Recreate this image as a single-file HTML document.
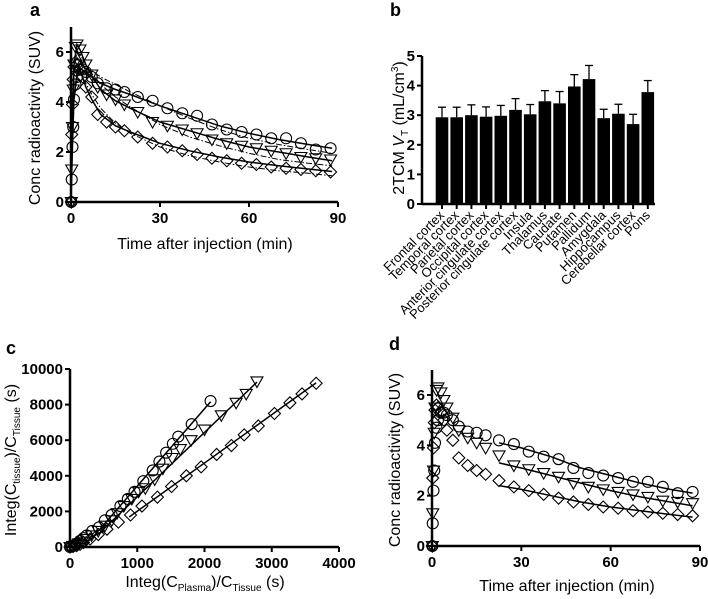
<!DOCTYPE html>
<html><head><meta charset="utf-8">
<style>
html,body{margin:0;padding:0;background:#fff;}
svg{display:block;font-family:"Liberation Sans",Arial,sans-serif;}
.tick{font-size:15px;font-weight:bold;}
.title{font-size:16px;}
.plab{font-size:18px;font-weight:bold;}
.cat{font-size:13px;}
</style></head>
<body>
<svg id="fig" width="708" height="599" viewBox="0 0 708 599" xmlns="http://www.w3.org/2000/svg"></svg>
<script>
// ---------- data ----------
const times = [0.1,0.25,0.5,0.75,1,1.5,2,3,4,5,7,9,12,15,18,22.5,27.5,32.5,37.5,42.5,47.5,52.5,57.5,62.5,67.5,72.5,77.5,82.5,87.5];
const circleTAC = [0,0.9,2.2,3.0,4.1,4.7,5.0,5.3,5.3,5.2,5.0,4.75,4.55,4.5,4.4,4.2,4.05,3.75,3.55,3.45,3.1,2.9,2.8,2.7,2.55,2.55,2.35,2.1,2.15];
const triTAC = [0,1.3,3.0,4.5,5.5,6.2,6.3,6.1,5.8,5.5,5.1,4.6,4.3,4.1,3.9,3.6,3.2,3.05,2.9,2.75,2.5,2.35,2.25,2.15,2.05,1.95,1.8,1.75,1.7];
const diaTAC = [0,2.7,3.9,4.9,5.4,5.6,5.5,5.3,5.0,4.6,4.2,3.5,3.2,3.0,2.85,2.6,2.35,2.2,2.05,1.9,1.75,1.65,1.55,1.5,1.4,1.35,1.3,1.25,1.2];
const fitTimes = [0,0.5,1,2,3,5,7,10,15,20,30,40,50,60,70,80,88];
const circleFit2 = [0,2.3,4.2,5.1,5.35,5.2,5.0,4.75,4.5,4.3,3.85,3.45,3.05,2.75,2.5,2.3,2.15];
const triFit2 = [0,3.0,5.5,6.3,6.1,5.5,5.05,4.5,4.05,3.75,3.2,2.85,2.5,2.2,2.0,1.8,1.65];
const diaFit2 = [0,3.9,5.4,5.5,5.3,4.6,4.1,3.5,3.05,2.8,2.35,2.05,1.8,1.6,1.45,1.32,1.22];
const circleFit1 = [0,2.2,4.0,5.0,5.3,5.35,5.25,5.0,4.7,4.4,3.85,3.35,2.9,2.55,2.3,2.1,1.95];
const triFit1 = [0,2.9,5.3,6.0,5.9,5.5,5.15,4.7,4.2,3.8,3.1,2.6,2.25,1.95,1.7,1.55,1.45];
const diaFit1 = [0,3.8,5.2,5.4,5.2,4.75,4.3,3.75,3.15,2.75,2.2,1.85,1.6,1.4,1.25,1.15,1.05];
const dFitTimes = [22.5,30,40,50,60,70,80,87.5];
const circleFitD = [4.1,3.9,3.55,3.1,2.8,2.5,2.25,2.1];
const triFitD = [3.3,3.1,2.8,2.5,2.2,1.95,1.75,1.6];
const diaFitD = [2.4,2.25,2.0,1.75,1.55,1.4,1.25,1.15];
const regions = ["Frontal cortex","Temporal cortex","Parietal cortex","Occipital cortex","Anterior cingulate cortex","Posterior cingulate cortex","Insula","Thalamus","Caudate","Putamen","Pallidum","Amygdala","Hippocampus","Cerebellar cortex","Pons"];
const vtMean = [2.93,2.93,3.0,2.95,2.98,3.18,3.03,3.47,3.4,3.97,4.22,2.9,3.05,2.7,3.78];
const vtSD = [0.34,0.34,0.35,0.33,0.35,0.38,0.33,0.36,0.4,0.4,0.46,0.3,0.32,0.33,0.39];
const loganCircX = [0,30,60,100,150,200,250,330,430,520,620,750,860,960,1090,1230,1330,1430,1530,1610,1810,2090];
const loganCircY = [0,50,100,200,350,500,650,900,1100,1500,1800,2300,2700,3100,3700,4300,4800,5300,5800,6200,6900,8200];
const loganTriX = [0,40,80,130,180,240,320,420,520,620,700,800,920,1020,1120,1260,1380,1520,1640,1800,2000,2250,2470,2620,2780];
const loganTriY = [0,60,120,200,300,450,650,900,1200,1500,1900,2300,2700,3100,3300,3800,4400,5000,5500,6000,6600,7400,8100,8600,9300];
const loganDiaX = [0,50,100,150,200,300,420,550,720,900,1070,1300,1510,1730,1950,2180,2400,2590,2800,3040,3270,3450,3660];
const loganDiaY = [0,40,80,150,250,450,700,1000,1400,1800,2300,2800,3400,4000,4500,5200,5700,6300,6800,7500,8100,8600,9200];
const loganFitStart = [300,400,880];
const loganSlopes = [4.35,3.62,2.71];
const loganIntercepts = [-930,-800,-700];
const loganFitEnd = [2090,2780,3660];
const tacTicks = [0,2,4,6];
const timeTicks = [0,30,60,90];
const vtTicks = [0,1,2,3,4,5];
const loganYTicks = [0,2000,4000,6000,8000,10000];
const loganXTicks = [0,1000,2000,3000,4000];

// ---------- helpers ----------
const NS="http://www.w3.org/2000/svg";
const svg=document.getElementById('fig');
function mk(tag,attrs,parent){const e=document.createElementNS(NS,tag);for(const k in attrs)e.setAttribute(k,attrs[k]);(parent||svg).appendChild(e);return e;}
function txt(s,x,y,cls,anchor,parent,rot){const t=mk('text',{x:x,y:y,class:cls,'text-anchor':anchor||'middle'},parent);if(rot)t.setAttribute('transform',rot);t.textContent=s;return t;}
function lin(d0,d1,r0,r1){return v=>r0+(v-d0)*(r1-r0)/(d1-d0);}
function marker(kind,x,y,g){let e;
 if(kind==='circle'){e=mk('circle',{cx:x,cy:y,r:5.5,fill:'none',stroke:'#000','stroke-width':1.1},g);}
 else if(kind==='tri'){e=mk('polygon',{points:`${x-6},${y-4.5} ${x+6},${y-4.5} ${x},${y+6}`,fill:'none',stroke:'#000','stroke-width':1.1},g);}
 else {e=mk('polygon',{points:`${x},${y-6} ${x+6},${y} ${x},${y+6} ${x-6},${y}`,fill:'none',stroke:'#000','stroke-width':1.1},g);}
 return e;}
function path(xs,ys,X,Y,g,dash){let d='';for(let i=0;i<xs.length;i++)d+=(i?'L':'M')+X(xs[i]).toFixed(1)+','+Y(ys[i]).toFixed(1);
 const p=mk('path',{d:d,fill:'none',stroke:'#000','stroke-width':dash?1:1.5},g);if(dash)p.setAttribute('stroke-dasharray','6,2,1.5,2');return p;}
function axes(g,X,Y,xt,yt,xl,yl,x0,x1,ytop){
 const ax=mk('line',{x1:X(x0),y1:Y(0),x2:X(x1),y2:Y(0),stroke:'#000','stroke-width':2.5},g);
 
 
 const ay=mk('line',{x1:X(x0),y1:Y(0)+1,x2:X(x0),y2:ytop,stroke:'#000','stroke-width':2.5},g);
 
 
 xt.forEach(v=>{mk('line',{x1:X(v),y1:Y(0),x2:X(v),y2:Y(0)+5,stroke:'#000','stroke-width':2},g);
  const t=txt(xl?xl(v):String(v),X(v),Y(0)+21,'tick','middle',g);
  
  });
 yt.forEach(v=>{mk('line',{x1:X(x0)-5,y1:Y(v),x2:X(x0),y2:Y(v),stroke:'#000','stroke-width':2},g);
  const t=txt(yl?yl(v):String(v),X(x0)-7,Y(v)+5,'tick','end',g);
  
  });
}
const kinds=['circle','tri','dia'];

// ---------- panel a ----------
(function(){
 const g=mk('g',{});
 
 
 const X=lin(0,90,71,338),Y=lin(0,6,202,52);
 const l=txt('a',30,16,'plab','start',g);
 
 
 const fit1=[circleFit1,triFit1,diaFit1],fit2=[circleFit2,triFit2,diaFit2],tac=[circleTAC,triTAC,diaTAC];
 fit1.forEach(f=>{const p=path(fitTimes,f,X,Y,g,true);
  
  });
 fit2.forEach(f=>{const p=path(fitTimes,f,X,Y,g,false);
  
  });
 tac.forEach((s,k)=>s.forEach((v,i)=>{const m=marker(kinds[k],X(times[i]),Y(v),g);
  
  }));
 axes(g,X,Y,timeTicks,tacTicks,null,null,0,90,27);
 const yt=txt('Conc radioactivity (SUV)',0,0,'title','middle',g,'translate(40,118) rotate(-90)');
 
 
 const xt=txt('Time after injection (min)',205,249,'title','middle',g);
 
 
})();

// ---------- panel b ----------
(function(){
 const g=mk('g',{});
 
 
 const Y=lin(0,5,204,56);
 const X=i=>442+i*14.7;
 const l=txt('b',390,16,'plab','start',g);
 
 
 vtMean.forEach((v,i)=>{
  const e=mk('line',{x1:X(i),y1:Y(v),x2:X(i),y2:Y(v+vtSD[i]),stroke:'#000','stroke-width':1.3},g);
  
  
  const c=mk('line',{x1:X(i)-4,y1:Y(v+vtSD[i]),x2:X(i)+4,y2:Y(v+vtSD[i]),stroke:'#000','stroke-width':1.3},g);
  
  
  const b=mk('rect',{x:X(i)-6.3,y:Y(v),width:12.6,height:Y(0)-Y(v),fill:'#000'},g);
  
  
  mk('line',{x1:X(i),y1:Y(0),x2:X(i),y2:Y(0)+5,stroke:'#000','stroke-width':2},g);
  const t=txt(regions[i],X(i)+3,Y(0)+12,'cat','end',g,`rotate(-45 ${X(i)+3} ${Y(0)+12})`);
  
  
 });
 const ax=mk('line',{x1:422,y1:Y(0),x2:655,y2:Y(0),stroke:'#000','stroke-width':2.5},g);
 
 
 const ay=mk('line',{x1:422,y1:Y(0)+1,x2:422,y2:Y(5),stroke:'#000','stroke-width':2.5},g);
 
 
 vtTicks.forEach(v=>{mk('line',{x1:417,y1:Y(v),x2:422,y2:Y(v),stroke:'#000','stroke-width':2},g);
  const t=txt(String(v),415,Y(v)+5,'tick','end',g);
  
  });
 const yt=mk('text',{class:'title','text-anchor':'middle',transform:'translate(404,128) rotate(-90)'},g);
 
 
 yt.innerHTML='2TCM <tspan font-style="italic">V</tspan><tspan font-size="10" dy="4">T</tspan><tspan dy="-4"> (mL/cm</tspan><tspan font-size="10" dy="-6">3</tspan><tspan dy="6">)</tspan>';
})();

// ---------- panel c ----------
(function(){
 const g=mk('g',{});
 
 
 const X=lin(0,4000,70,339),Y=lin(0,10000,547,369);
 const l=txt('c',6,354,'plab','start',g);
 
 
 loganSlopes.forEach((s,k)=>{const xs=[loganFitStart[k],loganFitEnd[k]];const ys=xs.map(x=>s*x+loganIntercepts[k]);
  const p=path(xs,ys,X,Y,g,false);
  
  });
 [[loganCircX,loganCircY],[loganTriX,loganTriY],[loganDiaX,loganDiaY]].forEach((s,k)=>s[0].forEach((x,i)=>{
  const m=marker(kinds[k],X(x),Y(s[1][i]),g);
  
  }));
 axes(g,X,Y,loganXTicks,loganYTicks,null,null,0,4000,Y(10000));
 const yt=mk('text',{class:'title','text-anchor':'middle',transform:'translate(16,460) rotate(-90)'},g);
 
 
 yt.innerHTML='Integ(C<tspan font-size="10" dy="4">tissue</tspan><tspan dy="-4">)/C</tspan><tspan font-size="10" dy="4">Tissue</tspan><tspan dy="-4"> (s)</tspan>';
 const xt=mk('text',{class:'title','text-anchor':'middle',x:205,y:587},g);
 
 
 xt.innerHTML='Integ(C<tspan font-size="10" dy="4">Plasma</tspan><tspan dy="-4">)/C</tspan><tspan font-size="10" dy="4">Tissue</tspan><tspan dy="-4"> (s)</tspan>';
})();

// ---------- panel d ----------
(function(){
 const g=mk('g',{});
 
 
 const X=lin(0,90,432,700),Y=lin(0,6,546,395);
 const l=txt('d',389,350,'plab','start',g);
 
 
 [circleFitD,triFitD,diaFitD].forEach(f=>{const p=path(dFitTimes,f,X,Y,g,false);
  
  });
 [circleTAC,triTAC,diaTAC].forEach((s,k)=>s.forEach((v,i)=>{const m=marker(kinds[k],X(times[i]),Y(v),g);
  
  }));
 axes(g,X,Y,timeTicks,tacTicks,null,null,0,90,370);
 const yt=txt('Conc radioactivity (SUV)',0,0,'title','middle',g,'translate(400,460) rotate(-90)');
 
 
 const xt=txt('Time after injection (min)',567,591,'title','middle',g);
 
 
})();
</script>
</body></html>
